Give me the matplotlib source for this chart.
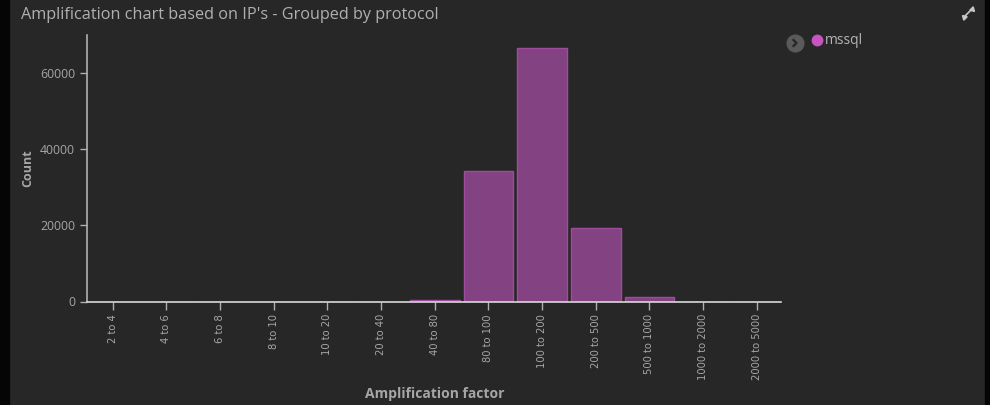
import matplotlib.pyplot as plt
from matplotlib.lines import Line2D

# data
categories = ['2 to 4', '4 to 6', '6 to 8', '8 to 10', '10 to 20', '20 to 40', '40 to 80',
              '80 to 100', '100 to 200', '200 to 500', '500 to 1000', '1000 to 2000',
              '2000 to 5000']
counts = [0, 0, 0, 0, 0, 0, 300, 34300, 66500, 19200, 1100, 0, 0]
y_ticks = [0, 20000, 40000, 60000]
series_name = 'mssql'

BG = '#272727'
TEXT = '#a6a6a6'
BAR = '#834282'
BAR_EDGE = '#a04c9e'
FONT = ['Open Sans', 'DejaVu Sans']

W, H = 990, 405


def fx(px):
    return px / W


def fy(py):
    return 1 - py / H


fig = plt.figure(figsize=(9.9, 4.05), dpi=100)
fig.patch.set_facecolor(BG)

# dark border strips on the left/right edges
fig.add_artist(plt.Rectangle((0, 0), fx(9), 1, transform=fig.transFigure, color='#050505', zorder=0))
fig.add_artist(plt.Rectangle((fx(985), 0), fx(5), 1, transform=fig.transFigure, color='#050505', zorder=0))

ax = fig.add_axes([fx(87), fy(301.5), fx(781 - 87), (301.5 - 34.7) / H])
ax.set_facecolor(BG)

x = range(len(categories))
ax.bar(x, counts, width=0.93, color=BAR, edgecolor=BAR_EDGE, linewidth=1.0, zorder=2)

ax.set_xlim(-0.48, 12.45)
ax.set_ylim(0, 70000)
ax.set_yticks(y_ticks)
ax.set_yticklabels([str(v) for v in y_ticks])
ax.set_xticks(list(x))
ax.set_xticklabels(categories, rotation=90, family=['Liberation Sans Narrow', 'DejaVu Sans'],
                   fontsize=7.2, color=TEXT)

for s in ['top', 'right']:
    ax.spines[s].set_visible(False)
ax.spines['left'].set_color('#b0b0b0')
ax.spines['bottom'].set_color('#d8d8d8')
ax.spines['left'].set_linewidth(1.2)
ax.spines['bottom'].set_linewidth(1.2)

ax.tick_params(axis='y', colors='#b0b0b0', labelcolor=TEXT, labelsize=8.8, length=5, width=1)
ax.tick_params(axis='x', colors='#b0b0b0', labelcolor=TEXT, length=6, width=1, pad=3)
for lab in ax.get_yticklabels():
    lab.set_family(FONT)

fig.text(fx(28), fy(168), 'Count', rotation=90, ha='center', va='center', fontsize=9,
         fontweight='bold', color=TEXT, family=FONT)
fig.text(fx(435), fy(394), 'Amplification factor', ha='center', va='center', fontsize=10,
         fontweight='bold', color=TEXT, family=FONT)

fig.text(fx(21), fy(15), "Amplification chart based on IP's - Grouped by protocol", ha='left',
         va='center', fontsize=11.7, color='#b0b0b0', family=FONT)

# legend: toggle button, color dot, series name
fig.add_artist(Line2D([fx(795)], [fy(43)], marker='o', markersize=12, color='#5a5a5a',
                      linestyle='none', transform=fig.transFigure))
fig.add_artist(Line2D([fx(793.5), fx(796.5), fx(793.5)], [fy(40), fy(43), fy(46)], color='#262626',
                      linewidth=1.6, transform=fig.transFigure))
fig.add_artist(Line2D([fx(817)], [fy(40)], marker='o', markersize=7.5, color='#c655c2',
                      linestyle='none', transform=fig.transFigure))
fig.text(fx(825), fy(40), series_name, ha='left', va='center', fontsize=10, color='#b4b4b4',
         family=FONT)

# expand icon top right (two small diagonal arrows)
icon = '#c8c8c8'
fig.add_artist(Line2D([fx(964), fx(972)], [fy(17), fy(9)], color=icon, linewidth=1.2,
                      transform=fig.transFigure))
fig.add_artist(Line2D([fx(964)], [fy(17)], marker=(3, 0, 45), markersize=4, color=icon,
                      linestyle='none', transform=fig.transFigure))
fig.add_artist(Line2D([fx(972)], [fy(9)], marker=(3, 0, -135), markersize=4, color=icon,
                      linestyle='none', transform=fig.transFigure))

fig.savefig('out.png', dpi=100, facecolor=BG)
